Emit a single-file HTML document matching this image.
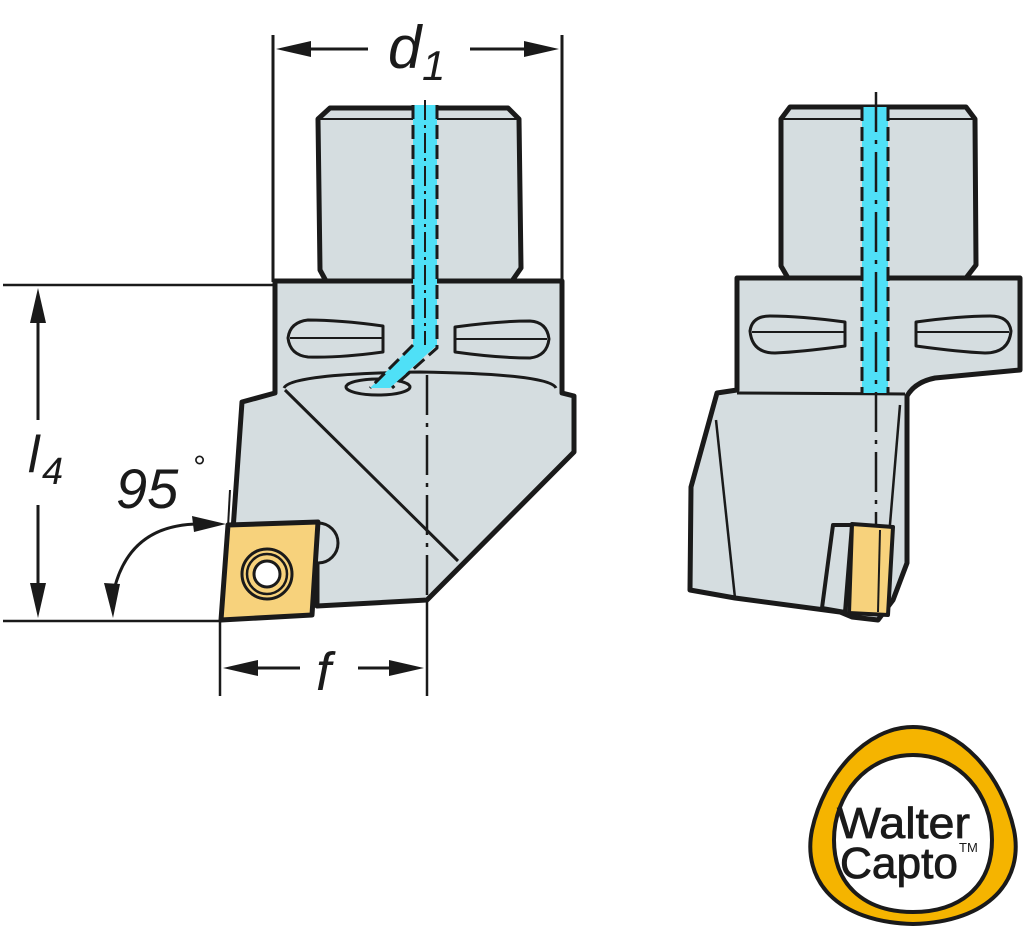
<!DOCTYPE html>
<html><head><meta charset="utf-8"><style>
html,body{margin:0;padding:0;background:#fff;}
svg{display:block;}
text{font-family:"Liberation Sans",sans-serif;}
</style></head><body>
<svg width="1024" height="930" viewBox="0 0 1024 930" xmlns="http://www.w3.org/2000/svg">
<g stroke="#1a1a1a" fill="none">
<line x1="273" y1="35" x2="273" y2="282" stroke-width="3"/>
<line x1="562" y1="35" x2="562" y2="282" stroke-width="3"/>
<line x1="305" y1="49" x2="368" y2="49" stroke-width="3"/>
<polygon points="276,49 311,41 311,57" fill="#1a1a1a" stroke="none"/>
<line x1="470" y1="49" x2="530" y2="49" stroke-width="3"/>
<polygon points="559,49 524,41 524,57" fill="#1a1a1a" stroke="none"/>
<line x1="3" y1="285" x2="275" y2="285" stroke-width="2.5"/>
<line x1="3" y1="621" x2="222" y2="621" stroke-width="2.5"/>
<line x1="38" y1="320" x2="38" y2="420" stroke-width="3"/>
<polygon points="38,288 30,323 46,323" fill="#1a1a1a" stroke="none"/>
<line x1="38" y1="505" x2="38" y2="590" stroke-width="3"/>
<polygon points="38,618 30,583 46,583" fill="#1a1a1a" stroke="none"/>
<line x1="220" y1="622" x2="220" y2="696" stroke-width="2.5"/>
<line x1="427" y1="600" x2="427" y2="696" stroke-width="2.5"/>
<line x1="250" y1="668" x2="300" y2="668" stroke-width="3"/>
<polygon points="223,668 258,660 258,676" fill="#1a1a1a" stroke="none"/>
<line x1="358" y1="668" x2="398" y2="668" stroke-width="3"/>
<polygon points="424,668 389,660 389,676" fill="#1a1a1a" stroke="none"/>
<line x1="230" y1="490" x2="228" y2="527" stroke-width="2"/>
<path d="M200,524 Q130,524 114,590" stroke-width="3"/>
<polygon points="226,524 192,516 194,532" fill="#1a1a1a" stroke="none"/>
<polygon points="113,618 104,583 120,584" fill="#1a1a1a" stroke="none"/>
</g>
<g font-style="italic" fill="#1a1a1a">
<text x="388" y="68" font-size="60">d</text>
<text x="422" y="80" font-size="42">1</text>
<text x="28" y="472" font-size="52">l</text>
<text x="42" y="484" font-size="38">4</text>
<text x="316" y="690" font-size="54">f</text>
<text x="116" y="508" font-size="56">95</text>
<text x="192" y="478" font-size="32">°</text>
</g>

<!-- LEFT VIEW -->
<g stroke="#1a1a1a" stroke-linejoin="round">
<path d="M330,108 L508,108 L519,119 L521,268 L512,281 L326,281 L320,270 L318,119 Z" fill="#d5dde0" stroke-width="5"/>
<line x1="320" y1="119" x2="518" y2="119" stroke-width="2"/>
<path d="M275,281 L562,281 L562,393 L574,396 L574,452 L427,600 L317,606 L317,524 L233,530 L242,402 L275,393 Z" fill="#d5dde0" stroke-width="5"/>
<path d="M284,388 Q290,374 420,372 Q550,374 556,388" fill="none" stroke-width="3"/>
<line x1="285" y1="390" x2="458" y2="561" stroke-width="3"/>
<path d="M288,338 Q290,322 308,320 Q340,320 383,326 L383,352 Q340,358 308,357 Q290,355 288,338 Z" fill="#d5dde0" stroke-width="3"/>
<line x1="290" y1="338" x2="383" y2="338" stroke-width="2"/>
<path d="M549,339 Q547,322 530,321 Q498,321 455,327 L455,352 Q498,358 530,358 Q547,356 549,339 Z" fill="#d5dde0" stroke-width="3"/>
<line x1="455" y1="339" x2="547" y2="339" stroke-width="2"/>
<ellipse cx="378" cy="387" rx="32" ry="8" fill="#d5dde0" stroke-width="3"/>
<path d="M413,105 L437,105 L437,345 L390,388 L370,388 L413,345 Z" fill="#4fe0f7" stroke="none"/>
<path d="M413,105 L413,345 L370,388 M437,105 L437,348 L392,388" fill="none" stroke-width="3" stroke-dasharray="14,6"/>
<line x1="425" y1="100" x2="425" y2="345" stroke-width="2" stroke-dasharray="20,5,3,5"/>
<line x1="427" y1="375" x2="427" y2="600" stroke-width="2.5" stroke-dasharray="40,8,4,8"/>
<path d="M318,523 A20,20 0 0 1 318,563" fill="#d5dde0" stroke-width="3"/>
<path d="M228,525 L318,522 L312,615 L221,620 Z" fill="#f7d27c" stroke-width="5"/>
<circle cx="267" cy="574" r="25" fill="#f7d27c" stroke-width="3"/>
<circle cx="267" cy="574" r="20" fill="#f7d27c" stroke-width="2.5"/>
<circle cx="267" cy="574" r="13" fill="#fff" stroke-width="3"/>
</g>

<!-- RIGHT VIEW -->
<g stroke="#1a1a1a" stroke-linejoin="round">
<path d="M790,107 L966,107 L975,119 L976,265 L966,278 L788,278 L781,266 L781,119 Z" fill="#d5dde0" stroke-width="5"/>
<line x1="783" y1="119" x2="973" y2="119" stroke-width="2"/>
<path d="M737,278 L1020,278 L1020,370 L935,378 Q915,382 907,396 L907,563 L893,600 L878,620 L852,617 L840,612 L735,598 L690,590 L691,487 L717,393 L737,390 Z" fill="#d5dde0" stroke-width="5"/>
<line x1="737" y1="393" x2="905" y2="394" stroke-width="3"/>
<line x1="716" y1="420" x2="735" y2="598" stroke-width="2.5"/>
<line x1="900" y1="405" x2="887" y2="560" stroke-width="2.5"/>
<path d="M750,331 Q752,316 770,316 Q800,316 845,322 L845,346 Q800,352 775,353 Q752,353 750,331 Z" fill="#d5dde0" stroke-width="3"/>
<line x1="752" y1="332" x2="845" y2="332" stroke-width="2"/>
<path d="M1011,331 Q1009,316 990,316 Q960,316 916,322 L916,346 Q960,352 985,353 Q1009,353 1011,331 Z" fill="#d5dde0" stroke-width="3"/>
<line x1="916" y1="332" x2="1009" y2="332" stroke-width="2"/>
<rect x="862" y="107" width="26" height="286" fill="#4fe0f7" stroke="none"/>
<line x1="862" y1="107" x2="862" y2="393" stroke-width="3" stroke-dasharray="14,6"/>
<line x1="888" y1="107" x2="888" y2="393" stroke-width="3" stroke-dasharray="14,6"/>
<line x1="876" y1="92" x2="876" y2="560" stroke-width="2.5" stroke-dasharray="40,8,4,8"/>
<path d="M833,525 L852,525 L845,612 L822,608 Z" fill="#d5dde0" stroke-width="4"/>
<path d="M852,524 L893,527 L888,615 L849,613 Z" fill="#f7d27c" stroke-width="4"/>
<line x1="880" y1="530" x2="878" y2="612" stroke-width="2"/>
</g>

<!-- LOGO -->
<g>
<path d="M913,727 C960,727 1002,775 1014,830 C1024,880 990,922 913,924 C836,922 802,880 812,830 C824,775 866,727 913,727 Z" fill="#f5b400" stroke="#1a1a1a" stroke-width="4"/>
<path d="M913,755 C960,755 992,795 992,840 C992,888 958,912 913,912 C868,912 834,888 834,840 C834,795 866,755 913,755 Z" fill="#fff" stroke="#1a1a1a" stroke-width="4"/>
<text x="837" y="838" font-size="44" fill="#1a1a1a" stroke="#1a1a1a" stroke-width="0.8" textLength="133" lengthAdjust="spacingAndGlyphs">Walter</text>
<text x="840" y="878" font-size="44" fill="#1a1a1a" stroke="#1a1a1a" stroke-width="0.8" textLength="118" lengthAdjust="spacingAndGlyphs">Capto</text>
<text x="959" y="852" font-size="13" fill="#1a1a1a">TM</text>
</g>
</svg>
</body></html>
